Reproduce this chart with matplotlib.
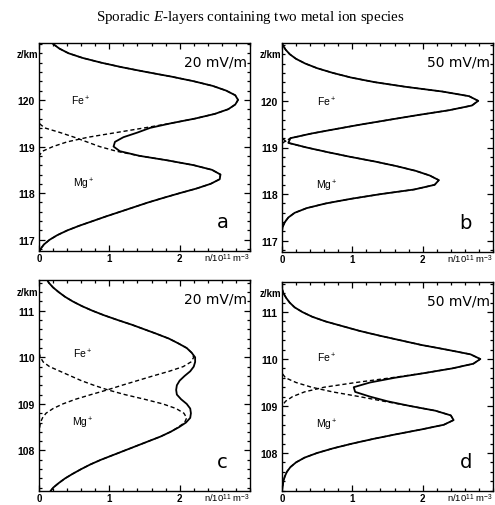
import numpy as np
import matplotlib.pyplot as plt
from matplotlib.ticker import MultipleLocator, FixedLocator

plt.rcParams['font.family'] = ['Liberation Sans', 'DejaVu Sans']
plt.rcParams['mathtext.fontset'] = 'custom'
plt.rcParams['mathtext.rm'] = 'Liberation Sans'
plt.rcParams['mathtext.it'] = 'Liberation Serif:italic'

z_top = [116.7, 116.8, 116.9, 117.0, 117.1, 117.2, 117.3, 117.4, 117.5, 117.6,
         117.7, 117.8, 117.9, 118.0, 118.1, 118.2, 118.3, 118.4, 118.5, 118.6,
         118.7, 118.8, 118.9, 119.0, 119.1, 119.2, 119.3, 119.4, 119.5, 119.6,
         119.7, 119.8, 119.9, 120.0, 120.1, 120.2, 120.3, 120.4, 120.5, 120.6,
         120.7, 120.8, 120.9, 121.0, 121.1, 121.2, 121.3]
z_bot = [107.0, 107.1, 107.2, 107.3, 107.4, 107.5, 107.6, 107.7, 107.8, 107.9,
         108.0, 108.1, 108.2, 108.3, 108.4, 108.5, 108.6, 108.7, 108.8, 108.9,
         109.0, 109.1, 109.2, 109.3, 109.4, 109.5, 109.6, 109.7, 109.8, 109.9,
         110.0, 110.1, 110.2, 110.3, 110.4, 110.5, 110.6, 110.7, 110.8, 110.9,
         111.0, 111.1, 111.2, 111.3, 111.4, 111.5, 111.6, 111.7]

# ion densities n / 10^11 m^-3
fe_a = [0] * 21 + [0, 0.05, 0.2, 0.4, 0.7, 1.1, 1.5, 1.88, 2.22, 2.5,
                   2.69, 2.79, 2.83, 2.79, 2.66, 2.47, 2.2, 1.88, 1.52, 1.18,
                   0.88, 0.62, 0.42, 0.29, 0.2, 0.13]
mg_a = [0, 0.02, 0.07, 0.15, 0.26, 0.4, 0.57, 0.76, 0.95, 1.15,
        1.35, 1.55, 1.77, 2.0, 2.24, 2.44, 2.57, 2.58, 2.46, 2.2,
        1.84, 1.43, 1.1, 0.86, 0.68, 0.5, 0.3, 0.08, 0] + [0] * 18

fe_b = [0] * 24 + [0.01, 0.12, 0.42, 0.78, 1.15, 1.55, 1.95, 2.38, 2.7, 2.79,
                   2.66, 2.28, 1.76, 1.32, 0.98, 0.72, 0.5, 0.33, 0.2, 0.11,
                   0.05, 0.01, 0]
mg_b = [0] * 6 + [0.01, 0.04, 0.09, 0.18, 0.35, 0.62, 0.98, 1.4, 1.88, 2.17,
                  2.23, 2.1, 1.9, 1.63, 1.32, 0.97, 0.65, 0.35, 0.08, 0] + [0] * 21

fe_c = [0] * 14 + [0, 0.01, 0.02, 0.05, 0.1, 0.2, 0.34, 0.52, 0.74, 0.97,
                   1.18, 1.4, 1.62, 1.85, 2.05, 2.16, 2.2, 2.17, 2.1, 1.98,
                   1.85, 1.68, 1.5, 1.32, 1.12, 0.93, 0.76, 0.61, 0.48, 0.37,
                   0.28, 0.2, 0.14, 0.1]
mg_c = [0.1, 0.15, 0.2, 0.28, 0.37, 0.48, 0.6, 0.73, 0.88, 1.05,
        1.22, 1.39, 1.56, 1.73, 1.87, 1.98, 2.07, 2.1, 2.06, 1.95,
        1.76, 1.5, 1.22, 0.98, 0.78, 0.6, 0.45, 0.3, 0.15, 0.06,
        0.02, 0] + [0] * 16

fe_d = [0] * 20 + [0, 0.05, 0.15, 0.32, 0.6, 1.05, 1.55, 2.02, 2.42, 2.72,
                   2.82, 2.68, 2.34, 1.98, 1.68, 1.38, 1.1, 0.86, 0.62, 0.43,
                   0.29, 0.18, 0.11, 0.06, 0.02, 0, 0, 0]
mg_d = [0, 0, 0, 0.01, 0.02, 0.04, 0.07, 0.12, 0.2, 0.32,
        0.5, 0.73, 1.0, 1.3, 1.63, 1.98, 2.3, 2.44, 2.4, 2.18,
        1.82, 1.45, 1.1, 0.72, 0.42, 0.2, 0.05, 0] + [0] * 20

fields = ['20 mV/m', '50 mV/m', '20 mV/m', '50 mV/m']
letters = ['a', 'b', 'c', 'd']
yticks_top = [117, 118, 119, 120]
yticks_bot = [108, 109, 110, 111]

panels = [
    (z_top, fe_a, mg_a, (116.76, 121.22), yticks_top),
    (z_top, fe_b, mg_b, (116.76, 121.24), yticks_top),
    (z_bot, fe_c, mg_c, (107.13, 111.66), yticks_bot),
    (z_bot, fe_d, mg_d, (107.19, 111.64), yticks_bot),
]

rects = [
    [39 / 495, 1 - 252 / 506, 211 / 495, 208 / 506],
    [282 / 495, 1 - 253 / 506, 211 / 495, 209 / 506],
    [39 / 495, 1 - 492 / 506, 211 / 495, 211 / 506],
    [282 / 495, 1 - 492 / 506, 211 / 495, 209 / 506],
]
fe_pos = [(0.59, 120.0), (0.64, 120.0), (0.62, 110.1), (0.64, 110.04)]
mg_pos = [(0.63, 118.22), (0.64, 118.19), (0.62, 108.61), (0.64, 108.63)]

fig = plt.figure(figsize=(4.95, 5.06), dpi=100)
fig.text(0.505, 0.966, r'Sporadic $\mathit{E}$-layers containing two metal ion species',
         ha='center', va='center', fontsize=10.8, family='Liberation Serif')

for i, (z, fe, mg, ylim, yt) in enumerate(panels):
    ax = fig.add_axes(rects[i])
    fe = np.array(fe)
    mg = np.array(mg)
    total = fe + mg
    ax.plot(fe, z, color='black', lw=1.0, ls=(0, (3, 2)))
    ax.plot(mg, z, color='black', lw=1.0, ls=(0, (3, 2)))
    ax.plot(total, z, color='black', lw=1.3)

    ax.set_xlim(0, 3)
    ax.set_ylim(*ylim)
    ax.xaxis.set_major_locator(FixedLocator([0, 1, 2]))
    ax.xaxis.set_minor_locator(MultipleLocator(0.2))
    ax.yaxis.set_major_locator(FixedLocator(yt))
    ax.yaxis.set_minor_locator(MultipleLocator(0.2))
    ax.tick_params(which='both', direction='in', top=True, right=True,
                   labelsize=7.5, width=0.9)
    ax.tick_params(which='major', length=4, pad=3)
    ax.tick_params(which='minor', length=2)
    ax.tick_params(axis='x', which='major', pad=1.5, labelsize=7)
    for lbl in ax.get_xticklabels() + ax.get_yticklabels():
        lbl.set_fontweight('bold')
    for s in ax.spines.values():
        s.set_linewidth(1.0)

    ax.text(1.0, -0.003, r'n/10$^{11}$ m$^{-3}$', transform=ax.transAxes,
            ha='right', va='top', fontsize=6.8)
    ax.text(-0.005, 0.945, 'z/km', transform=ax.transAxes, ha='right',
            va='center', fontsize=7, fontweight='bold')
    ax.text(0.985, 0.91, fields[i], transform=ax.transAxes, ha='right',
            va='center', fontsize=10, family='DejaVu Sans')
    ax.text(0.87, 0.14, letters[i], transform=ax.transAxes, ha='center',
            va='center', fontsize=14, family='DejaVu Sans')
    ax.text(fe_pos[i][0], fe_pos[i][1], r'Fe$^+$', ha='center', va='center',
            fontsize=7.5)
    ax.text(mg_pos[i][0], mg_pos[i][1], r'Mg$^+$', ha='center', va='center',
            fontsize=7.5)

fig.savefig('out.png', dpi=100)
